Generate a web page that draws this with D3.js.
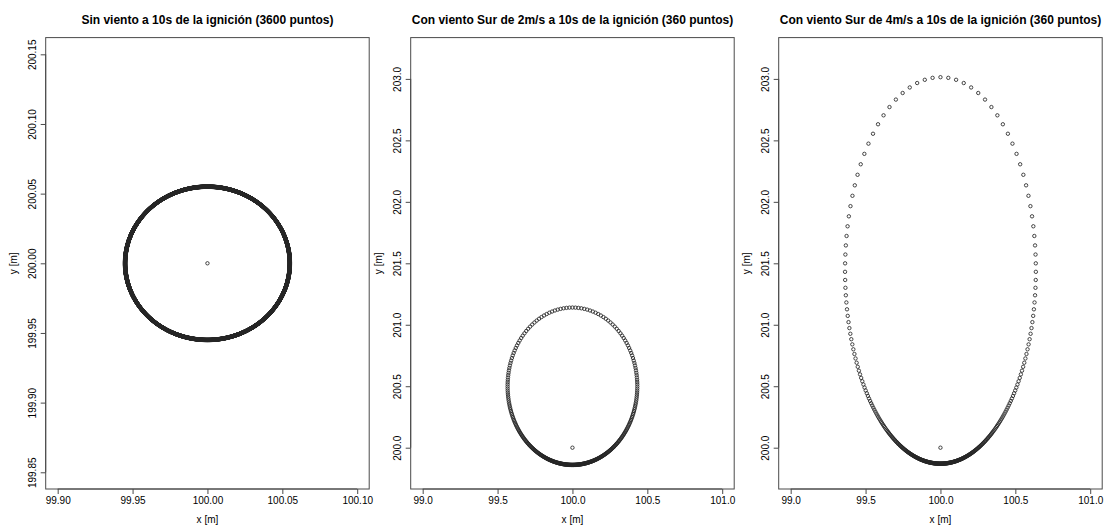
<!DOCTYPE html>
<html>
<head>
<meta charset="utf-8">
<script src="https://cdn.jsdelivr.net/npm/d3@7"></script>
<style>
  html, body { margin: 0; padding: 0; background: #fff; }
  svg { display: block; font-family: "Liberation Sans", Arial, Helvetica, sans-serif; }
</style>
</head>
<body>
<svg id="chart" width="1105" height="526"></svg>
<script>
// ---- data ----
const panelTitles = [
  "Sin viento a 10s de la ignición (3600 puntos)",
  "Con viento Sur de 2m/s a 10s de la ignición (360 puntos)",
  "Con viento Sur de 4m/s a 10s de la ignición (360 puntos)"
];
const pointCounts = [3600, 360, 360];
const ignitionX = [100, 100, 100];
const ignitionY = [200, 200, 200];
// spread distances (m) from the ignition point after 10 s
const headSpread  = [0.055, 1.14, 3.014];  // towards north (downwind)
const backSpread  = [0.055, 0.14, 0.13];   // towards south
const flankSpread = [0.055, 0.433, 0.637]; // half width (east / west)

const xLimits = [[99.9, 100.1], [99, 101], [99, 101]];
const yLimits = [[199.85, 200.15], [199.8, 203.2], [199.8, 203.2]];

const xTickValues = [
  [99.90, 99.95, 100.00, 100.05, 100.10],
  [99.0, 99.5, 100.0, 100.5, 101.0],
  [99.0, 99.5, 100.0, 100.5, 101.0]
];
const xTickLabels = [
  ["99.90", "99.95", "100.00", "100.05", "100.10"],
  ["99.0", "99.5", "100.0", "100.5", "101.0"],
  ["99.0", "99.5", "100.0", "100.5", "101.0"]
];
const yTickValues = [
  [199.85, 199.90, 199.95, 200.00, 200.05, 200.10, 200.15],
  [200.0, 200.5, 201.0, 201.5, 202.0, 202.5, 203.0],
  [200.0, 200.5, 201.0, 201.5, 202.0, 202.5, 203.0]
];
const yTickLabels = [
  ["199.85", "199.90", "199.95", "200.00", "200.05", "200.10", "200.15"],
  ["200.0", "200.5", "201.0", "201.5", "202.0", "202.5", "203.0"],
  ["200.0", "200.5", "201.0", "201.5", "202.0", "202.5", "203.0"]
];
const xAxisTitle = "x [m]";
const yAxisTitle = "y [m]";

// ---- layout ----
const boxLeft = [45.7, 410.7, 778.7];
const boxWidth = 323.5;
const boxTop = 37.6;
const boxBottom = 489;
const lineColor = "#4a4a4a";
const pointColor = "#262626";

// fire perimeter: rays from the ignition point at equal angular steps,
// elliptical shape defined by head / back / flank spread distances
function perimeter(i) {
  const n = pointCounts[i];
  const a = (headSpread[i] + backSpread[i]) / 2;
  const b = flankSpread[i];
  const d = (headSpread[i] - backSpread[i]) / 2;
  return d3.range(n).map(k => {
    const t = 2 * Math.PI * k / n;
    const s = Math.sin(t), c = Math.cos(t);
    const A = s * s / (b * b) + c * c / (a * a);
    const B = -2 * c * d / (a * a);
    const C = d * d / (a * a) - 1;
    const r = (-B + Math.sqrt(B * B - 4 * A * C)) / (2 * A);
    return [ignitionX[i] + r * s, ignitionY[i] + r * c];
  });
}

function expand(lim) {
  const p = (lim[1] - lim[0]) * 0.04;
  return [lim[0] - p, lim[1] + p];
}

const svg = d3.select("#chart");

panelTitles.forEach((title, i) => {
  const x = d3.scaleLinear().domain(expand(xLimits[i])).range([boxLeft[i], boxLeft[i] + boxWidth]);
  const y = d3.scaleLinear().domain(expand(yLimits[i])).range([boxBottom, boxTop]);
  const g = svg.append("g");

  // points
  const pts = perimeter(i);
  g.append("g").selectAll("circle").data(pts).join("circle")
    .attr("cx", d => x(d[0])).attr("cy", d => y(d[1])).attr("r", 1.7)
    .attr("fill", "none").attr("stroke", pointColor).attr("stroke-width", 0.85);
  g.append("circle")
    .attr("cx", x(ignitionX[i])).attr("cy", y(ignitionY[i])).attr("r", 1.7)
    .attr("fill", "none").attr("stroke", pointColor).attr("stroke-width", 0.85);

  // box
  g.append("rect")
    .attr("x", boxLeft[i]).attr("y", boxTop)
    .attr("width", boxWidth).attr("height", boxBottom - boxTop)
    .attr("fill", "none").attr("stroke", lineColor).attr("stroke-width", 1);

  // x axis
  const xa = g.append("g").attr("transform", `translate(0,${boxBottom})`)
    .call(d3.axisBottom(x).tickValues(xTickValues[i])
      .tickFormat((d, k) => xTickLabels[i][k]).tickSize(5).tickPadding(3).tickSizeOuter(0));
  xa.select(".domain").remove();
  xa.selectAll(".tick line").attr("stroke", lineColor);
  xa.selectAll(".tick text").attr("font-size", 10).attr("fill", "#000")
    .attr("font-family", "Liberation Sans, Arial, sans-serif");
  xa.append("line")
    .attr("x1", x(xTickValues[i][0])).attr("x2", x(xTickValues[i][xTickValues[i].length - 1]))
    .attr("stroke", lineColor);

  // y axis
  const ya = g.append("g").attr("transform", `translate(${boxLeft[i]},0)`)
    .call(d3.axisLeft(y).tickValues(yTickValues[i])
      .tickFormat((d, k) => yTickLabels[i][k]).tickSize(5).tickSizeOuter(0));
  ya.select(".domain").remove();
  ya.selectAll(".tick line").attr("stroke", lineColor);
  ya.selectAll(".tick text")
    .attr("font-size", 10).attr("fill", "#000")
    .attr("font-family", "Liberation Sans, Arial, sans-serif")
    .attr("x", null).attr("dy", null)
    .attr("text-anchor", "middle")
    .attr("transform", "translate(-10,0) rotate(-90)");
  ya.append("line")
    .attr("y1", y(yTickValues[i][0])).attr("y2", y(yTickValues[i][yTickValues[i].length - 1]))
    .attr("stroke", lineColor);

  // titles
  const cx = boxLeft[i] + boxWidth / 2;
  g.append("text").attr("x", cx).attr("y", 24)
    .attr("text-anchor", "middle").attr("font-size", 12).attr("font-weight", "bold")
    .text(title);
  g.append("text").attr("x", cx).attr("y", 523)
    .attr("text-anchor", "middle").attr("font-size", 10).text(xAxisTitle);
  const cy = (boxTop + boxBottom) / 2;
  g.append("text")
    .attr("transform", `translate(${boxLeft[i] - 29},${cy}) rotate(-90)`)
    .attr("text-anchor", "middle").attr("font-size", 10).text(yAxisTitle);
});
</script>
</body>
</html>
